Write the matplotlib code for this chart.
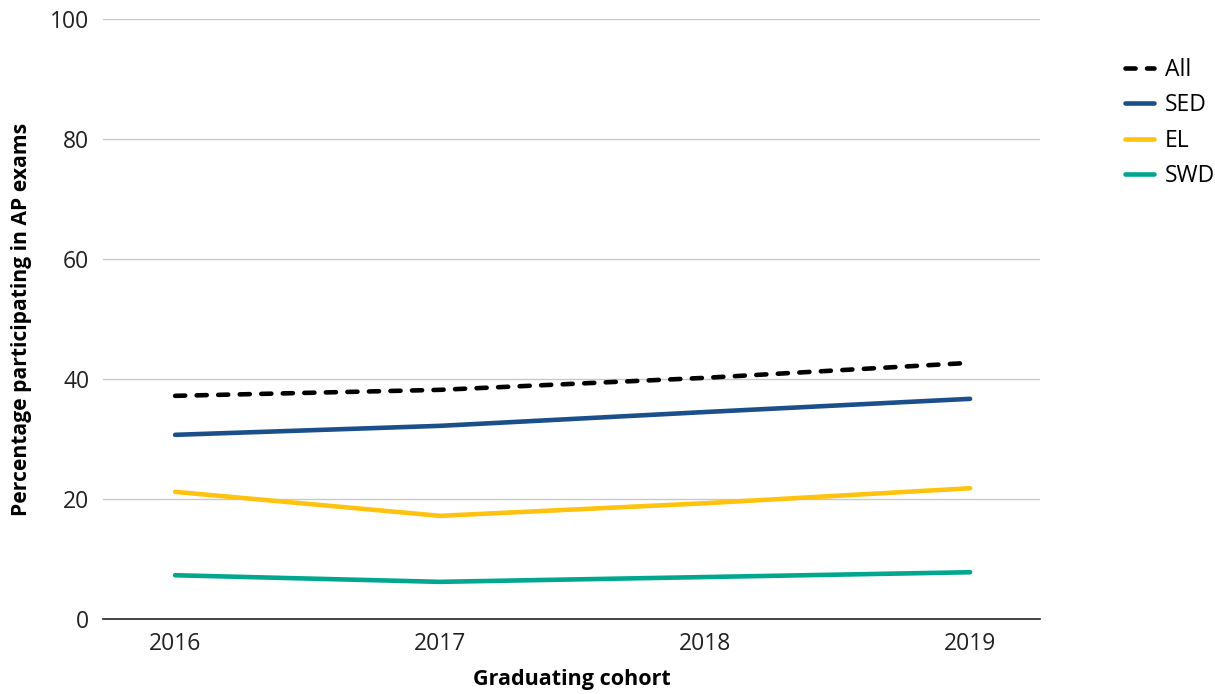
import matplotlib
matplotlib.use("Agg")
import matplotlib.pyplot as plt

# Part des eleves ayant passe au moins un examen AP, par cohorte
cohorts = ["2016", "2017", "2018", "2019"]
all_students = [37.2, 38.2, 40.2, 42.7]
sed = [30.7, 32.2, 34.5, 36.7]
el = [21.2, 17.2, 19.3, 21.8]
swd = [7.3, 6.2, 7.0, 7.8]

yticks = [0, 20, 40, 60, 80, 100]

plt.rcParams["font.family"] = ["Open Sans", "DejaVu Sans"]

fig = plt.figure(figsize=(12.15, 6.94), dpi=100)
ax = fig.add_axes([0.0848, 0.108, 0.7712, 0.8646])

x = range(len(cohorts))
lw = 3.3
ax.plot(x, all_students, color="black", lw=lw, linestyle=(0, (2.2, 2.5)),
        dash_capstyle="round", label="All", zorder=5)
ax.plot(x, sed, color="#1a4f8a", lw=lw, solid_capstyle="round", label="SED", zorder=4)
ax.plot(x, el, color="#ffc20e", lw=lw, solid_capstyle="round", label="EL", zorder=4)
ax.plot(x, swd, color="#00a78e", lw=lw, solid_capstyle="round", label="SWD", zorder=4)

ax.set_xlim(-0.272, 3.264)
ax.set_ylim(0, 100)
ax.set_xticks(list(x))
ax.set_xticklabels(cohorts)
ax.set_yticks(yticks)
ax.tick_params(axis="both", length=0, labelsize=16.5, colors="#222222")
ax.tick_params(axis="x", pad=9)
ax.tick_params(axis="y", pad=10)

# quadrillage horizontal leger, ligne du zero plus foncee
ax.grid(axis="y", color="#c8c8c8", lw=1)
ax.set_axisbelow(True)
for s in ["top", "right", "left"]:
    ax.spines[s].set_visible(False)
ax.spines["bottom"].set_color("#222222")
ax.spines["bottom"].set_linewidth(1.2)

ax.set_xlabel("Graduating cohort", fontsize=15.5, fontweight="bold", labelpad=10)
ax.set_ylabel("Percentage participating in AP exams", fontsize=15.2,
              fontweight="bold", labelpad=13)

fig.legend(loc="upper left", bbox_to_anchor=(0.918, 0.93), frameon=False,
           fontsize=16.5, handlelength=1.3, handletextpad=0.45, labelspacing=0.5,
           borderaxespad=0)

plt.savefig("out.png", dpi=100)
